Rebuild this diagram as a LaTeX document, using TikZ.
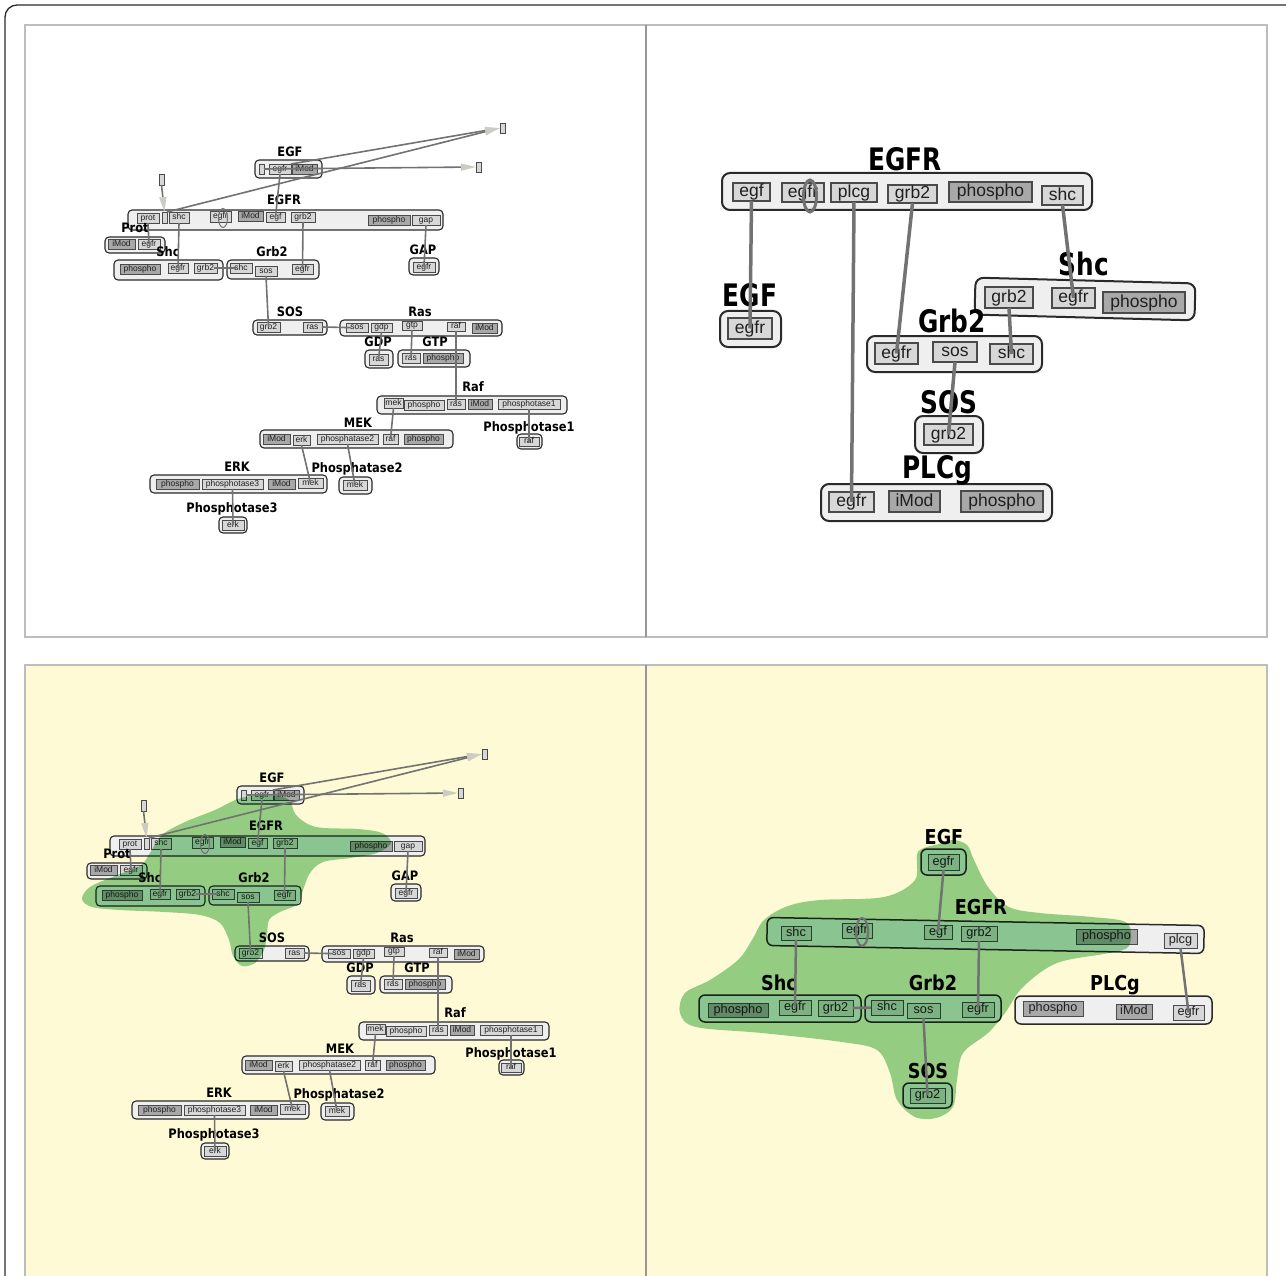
\documentclass[tikz,border=0pt]{standalone}
\usepackage{fontspec}
\setmainfont{Liberation Sans}
\newfontfamily\ttlA{DejaVu Sans}[FakeStretch=0.88]
\newfontfamily\ttlB{DejaVu Sans}[FakeStretch=0.8]
\newfontfamily\ttlC{DejaVu Sans}[FakeStretch=0.86]
\usetikzlibrary{arrows.meta}
\definecolor{boxfill}{HTML}{EFEFEF}
\definecolor{sitefill}{HTML}{D7D7D7}
\definecolor{sitedark}{HTML}{A8A8A8}
\definecolor{sitedraw}{HTML}{4A4A4A}
\definecolor{connc}{HTML}{727272}
\definecolor{tipc}{HTML}{CCCCC4}
\definecolor{cream}{HTML}{FFFAD6}
\definecolor{blobc}{HTML}{94D29B}
\definecolor{panelc}{HTML}{BDBDBD}
\definecolor{framec}{HTML}{2A2A2A}

\newcommand\st[7]{\node[#7, minimum width={(#4-#2)*1pt}, minimum height={(#5-#3)*1pt}] (#1) at ({(#2+#4)/2},{(#3+#5)/2}) {#6};}

\tikzset{
 sitebase/.style={draw=sitedraw, fill=sitefill, inner sep=0pt, outer sep=0pt, text=black!88},
 tls/.style={sitebase, line width=.6pt, font=\fontsize{8.5}{9}\selectfont, text height=4.7pt, text depth=.25pt},
 tld/.style={tls, fill=sitedark},
 tlbox/.style={draw=framec, fill=boxfill, line width=1.1pt, rounded corners=4pt, inner sep=0pt},
 tlt/.style={font=\ttlA\bfseries\fontsize{13}{13}\selectfont, inner sep=0pt, text height=9.5pt, text depth=0pt},
 tlc/.style={draw=connc, line width=1.6pt},
 tlarr/.style={tlc, -{Triangle[length=15pt,width=7pt,color=tipc]}},
 trs/.style={sitebase, line width=1.1pt, font=\fontsize{17.5}{18}\selectfont, text height=9.6pt, text depth=.5pt},
 trd/.style={trs, fill=sitedark},
 trbox/.style={draw=framec, fill=boxfill, line width=2pt, rounded corners=8pt, inner sep=0pt},
 trt/.style={font=\ttlB\bfseries\fontsize{31}{31}\selectfont, inner sep=0pt, text height=22.6pt, text depth=0pt},
 trc/.style={draw=connc, line width=3.5pt},
 brs/.style={sitebase, line width=.9pt, font=\fontsize{12.7}{13}\selectfont, text height=7pt, text depth=.4pt},
 brd/.style={brs, fill=sitedark},
 brbox/.style={draw=framec, fill=boxfill, line width=1.5pt, rounded corners=6pt, inner sep=0pt},
 brt/.style={font=\ttlC\bfseries\fontsize{20.5}{20.5}\selectfont, inner sep=0pt, text height=15pt, text depth=0pt},
 brc/.style={draw=connc, line width=2.5pt},
 blob/.style={fill=blobc, blend mode=multiply},
}

\newcommand\TLboxes[1]{%
 \st{#1EGF}{255}{160}{322}{178}{}{tlbox}
 \st{#1EGFs}{259}{164}{264}{174}{}{tls}
 \st{#1EGFegfr}{269}{164}{291}{174}{egfr}{tls}
 \st{#1EGFimod}{292}{164}{317}{174}{iMod}{tld}
 \st{#1sqA}{500}{123}{505}{133}{}{tls}
 \st{#1sqB}{476}{162}{481}{172}{}{tls}
 \st{#1sqC}{159}{174}{164}{185}{}{tls}
 \st{#1EGFR}{128}{210}{443}{230}{}{tlbox}
 \st{#1EGFRprot}{137}{213}{159}{223}{prot}{tls}
 \st{#1EGFRs}{162}{212}{167}{223}{}{tls}
 \st{#1EGFRshc}{169}{212}{189}{223}{shc}{tls}
 \st{#1EGFRegfr}{210}{211}{231}{222}{egfr}{tls}
 \st{#1EGFRimod}{238}{211}{263}{221}{iMod}{tld}
 \st{#1EGFRegf}{266}{212}{285}{222}{egf}{tls}
 \st{#1EGFRgrb}{291}{212}{315}{222}{grb2}{tls}
 \st{#1EGFRpho}{368}{215}{410}{225}{phospho}{tld}
 \st{#1EGFRgap}{412}{215}{440}{225}{gap}{tls}
 \st{#1Prot}{105}{237}{165}{253}{}{tlbox}
 \st{#1Protimod}{108}{239}{135}{249}{iMod}{tld}
 \st{#1Protegfr}{138}{239}{160}{249}{egfr}{tls}
 \st{#1Shc}{114}{260}{223}{280}{}{tlbox}
 \st{#1Shcpho}{120}{264}{160}{274}{phospho}{tld}
 \st{#1Shcegfr}{168}{263}{188}{273}{egfr}{tls}
 \st{#1Shcgrb}{194}{263}{217}{273}{grb2}{tls}
 \st{#1Grb}{227}{260}{319}{279}{}{tlbox}
 \st{#1Grbshc}{230}{263}{252}{273}{shc}{tls}
 \st{#1Grbsos}{255}{266}{277}{276}{sos}{tls}
 \st{#1Grbegfr}{292}{264}{313}{274}{egfr}{tls}
 \st{#1GAP}{409}{258}{439}{275}{}{tlbox}
 \st{#1GAPegfr}{413}{262}{435}{272}{egfr}{tls}
 \st{#1SOS}{253}{320}{327}{335}{}{tlbox}
 \st{#1SOSgrb}{257}{322}{280}{332}{grb2}{tls}
 \st{#1SOSras}{303}{322}{322}{332}{ras}{tls}
 \st{#1Ras}{340}{320}{502}{336}{}{tlbox}
 \st{#1Rassos}{346}{323}{368}{332}{sos}{tls}
 \st{#1Rasgdp}{371}{323}{392}{332}{gdp}{tls}
 \st{#1Rasgtp}{402}{321}{422}{330}{gtp}{tls}
 \st{#1Rasraf}{447}{322}{465}{331}{raf}{tls}
 \st{#1Rasimod}{472}{323}{497}{333}{iMod}{tld}
 \st{#1GDP}{365}{350}{393}{368}{}{tlbox}
 \st{#1GDPras}{369}{354}{388}{365}{ras}{tls}
 \st{#1GTP}{398}{350}{470}{367}{}{tlbox}
 \st{#1GTPras}{402}{353}{420}{363}{ras}{tls}
 \st{#1GTPpho}{423}{353}{463}{363}{phospho}{tld}
 \st{#1Raf}{377}{396}{567}{414}{}{tlbox}
 \st{#1Rafmek}{384}{398}{403}{408}{mek}{tls}
 \st{#1Rafpho}{404}{400}{444}{410}{phospho}{tls}
 \st{#1Rafras}{447}{399}{465}{409}{ras}{tls}
 \st{#1Rafimod}{468}{399}{492}{409}{iMod}{tld}
 \st{#1Rafpt}{498}{399}{560}{409}{phosphotase1}{tls}
 \st{#1MEK}{260}{430}{453}{448}{}{tlbox}
 \st{#1MEKimod}{263}{434}{290}{444}{iMod}{tld}
 \st{#1MEKerk}{293}{435}{310}{445}{erk}{tls}
 \st{#1MEKpt}{317}{434}{378}{444}{phosphatase2}{tls}
 \st{#1MEKraf}{383}{434}{398}{444}{raf}{tls}
 \st{#1MEKpho}{404}{434}{443}{444}{phospho}{tld}
 \st{#1PTa}{517}{434}{542}{449}{}{tlbox}
 \st{#1PTaraf}{519}{437}{539}{446}{raf}{tls}
 \st{#1ERK}{150}{475}{327}{493}{}{tlbox}
 \st{#1ERKpho}{156}{479}{199}{489}{phospho}{tld}
 \st{#1ERKpt}{202}{479}{263}{489}{phosphotase3}{tls}
 \st{#1ERKimod}{268}{479}{295}{489}{iMod}{tld}
 \st{#1ERKmek}{298}{478}{323}{488}{mek}{tls}
 \st{#1PTb}{339}{477}{372}{494}{}{tlbox}
 \st{#1PTbmek}{343}{480}{367}{490}{mek}{tls}
 \st{#1PTc}{219}{517}{247}{533}{}{tlbox}
 \st{#1PTcerk}{222}{520}{244}{530}{erk}{tls}
}

\newcommand\TLtop[1]{%
 \node[tlt] (#1tEGF) at (290,152) {EGF};
 \node[tlt] (#1tEGFR) at (284,200) {EGFR};
 \node[tlt] (#1tProt) at (135,228) {Prot};
 \node[tlt] (#1tShc) at (168,252) {Shc};
 \node[tlt] (#1tGrb) at (272,252) {Grb2};
 \node[tlt] (#1tGAP) at (423,250) {GAP};
 \node[tlt] (#1tSOS) at (290,312) {SOS};
 \node[tlt] (#1tRas) at (420,312) {Ras};
 \node[tlt] (#1tGDP) at (378,342) {GDP};
 \node[tlt] (#1tGTP) at (435,342) {GTP};
 \node[tlt] (#1tRaf) at (473,387) {Raf};
 \node[tlt] (#1tMEK) at (358,423) {MEK};
 \node[tlt] (#1tPTa) at (529,427) {Phosphotase1};
 \node[tlt] (#1tERK) at (237,467) {ERK};
 \node[tlt] (#1tPTb) at (357,468) {Phosphatase2};
 \node[tlt] (#1tPTc) at (232,508) {Phosphotase3};
 \draw[tlc] (#1EGFegfr.south) -- (#1EGFRegf.center);
 \draw[tlc] (#1EGFRprot.south) -- (#1Protegfr.center);
 \draw[tlc] (#1EGFRshc.south) -- (#1Shcegfr.center);
 \draw[tlc, shorten <=-3pt, shorten >=-6pt] (#1Shcgrb.east) -- (#1Grbshc.west);
 \draw[tlc] (#1EGFRgrb.south) -- (#1Grbegfr.center);
 \draw[tlc] (#1Grbsos.south) -- (#1SOSgrb.center);
 \draw[tlc] (#1EGFRgap.south) -- (#1GAPegfr.center);
 \draw[tlc, shorten >=-5pt] (#1SOSras.east) -- (#1Rassos.west);
 \draw[tlc] (#1Rasgdp.south) -- (#1GDPras.center);
 \draw[tlc] (#1Rasgtp.south) -- (#1GTPras.center);
 \draw[tlc] (#1Rasraf.south) -- (#1Rafras.center);
 \draw[tlc] (#1Rafmek.south) -- (#1MEKraf.center);
 \draw[tlc] (#1Rafpt.south) -- (#1PTaraf.center);
 \draw[tlc] (#1MEKerk.south) -- (#1ERKmek.center);
 \draw[tlc] (#1MEKpt.south) -- (#1PTbmek.center);
 \draw[tlc] (#1ERKpt.south) -- (#1PTcerk.center);
 \draw[connc, line width=1pt] ([xshift=2.5pt,yshift=-1.5pt]#1EGFRegfr.center) ellipse [x radius=4.5pt, y radius=9.5pt];
 \draw[tlarr] (#1sqC.south) -- (#1EGFRs.north);
 \draw[tlarr] (#1EGFRs.north east) -- (#1sqA.west);
 \draw[tlarr] (#1EGFegfr.north east) -- (#1sqA.west);
 \draw[tlarr] (#1EGFs.east) -- (#1sqB.west);
}

\begin{document}
\begin{tikzpicture}[x=1pt, y=-1pt]
\useasboundingbox (0,0) rectangle (1286,1276);
\clip (0,0) rectangle (1286,1276);
\fill[white] (0,0) rectangle (1286,1276);
\draw[framec, line width=1.3pt, rounded corners=12pt] (5,1300) -- (5,5) -- (1300,5);
\draw[panelc, line width=1.5pt] (25,25) rectangle (1267,637);
\draw[panelc!80!black, line width=1.3pt] (646,25) -- (646,637);
\fill[cream] (25,665) rectangle (1267,1300);
\draw[panelc, line width=1.5pt] (25,665) rectangle (1267,1300);
\draw[panelc!80!black, line width=1.3pt] (646,665) -- (646,1300);

% ---------- top left ----------
\TLboxes{a}

% ---------- bottom left boxes ----------
\begin{scope}[shift={(-18,626)}]
\TLboxes{d}
\end{scope}

% ---------- top right ----------
\st{bEGFR}{722}{173}{1092}{210}{}{trbox}
\st{bEGFRegf}{733}{183}{770}{201}{egf}{trs}
\st{bEGFRegfr}{782}{183}{824}{202}{egfr}{trs}
\st{bEGFRplcg}{831}{183}{877}{202}{plcg}{trs}
\st{bEGFRgrb}{888}{185}{937}{203}{grb2}{trs}
\st{bEGFRpho}{949}{182}{1032}{202}{phospho}{trd}
\st{bEGFRshc}{1042}{186}{1083}{205}{shc}{trs}
\st{bEGF}{720}{311}{781}{347}{}{trbox}
\st{bEGFegfr}{728}{318}{772}{339}{egfr}{trs}
\node[trbox, minimum width=220pt, minimum height=37pt, rotate=-1.5] (bShc) at (1085,299) {};
\st{bShcgrb}{985}{287}{1033}{308}{grb2}{trs}
\st{bShcegfr}{1052}{288}{1095}{308}{egfr}{trs}
\st{bShcpho}{1103}{292}{1185}{313}{phospho}{trd}
\st{bGrb}{867}{336}{1042}{372}{}{trbox}
\st{bGrbegfr}{875}{343}{918}{364}{egfr}{trs}
\st{bGrbsos}{933}{342}{977}{362}{sos}{trs}
\st{bGrbshc}{990}{344}{1033}{364}{shc}{trs}
\st{bSOS}{915}{416}{983}{453}{}{trbox}
\st{bSOSgrb}{924}{424}{973}{445}{grb2}{trs}
\st{bPLC}{821}{484}{1052}{521}{}{trbox}
\st{bPLCegfr}{829}{492}{874}{512}{egfr}{trs}
\st{bPLCimod}{889}{491}{940}{512}{iMod}{trd}
\st{bPLCpho}{961}{491}{1043}{512}{phospho}{trd}

% ---------- bottom right ----------
\st{cEGF}{921}{849}{966}{875}{}{brbox}
\st{cEGFegfr}{928}{854}{959}{870}{egfr}{brs}
\node[brbox, minimum width=437pt, minimum height=28pt, rotate=-1.05] (cEGFR) at (985.5,935.5) {};
\st{cEGFRshc}{781}{926}{811}{940}{shc}{brs}
\st{cEGFRegfr}{842}{923}{872}{938}{egfr}{brs}
\st{cEGFRegf}{924}{925}{952}{939}{egf}{brs}
\st{cEGFRgrb}{961}{926}{997}{941}{grb2}{brs}
\st{cEGFRpho}{1076}{929}{1137}{944}{phospho}{brd}
\st{cEGFRplcg}{1164}{933}{1197}{948}{plcg}{brs}
\st{cShc}{699}{995}{861}{1022}{}{brbox}
\st{cShcpho}{708}{1003}{768}{1017}{phospho}{brd}
\st{cShcegfr}{779}{1000}{811}{1015}{egfr}{brs}
\st{cShcgrb}{818}{1000}{853}{1016}{grb2}{brs}
\st{cGrb}{865}{995}{1001}{1022}{}{brbox}
\st{cGrbshc}{871}{1000}{903}{1015}{shc}{brs}
\st{cGrbsos}{907}{1003}{940}{1018}{sos}{brs}
\st{cGrbegfr}{962}{1002}{994}{1017}{egfr}{brs}
\st{cPLC}{1015}{996}{1212}{1024}{}{brbox}
\st{cPLCpho}{1023}{1001}{1083}{1016}{phospho}{brd}
\st{cPLCimod}{1116}{1004}{1152}{1019}{iMod}{brd}
\st{cPLCegfr}{1173}{1005}{1204}{1020}{egfr}{brs}
\st{cSOS}{903}{1083}{952}{1108}{}{brbox}
\st{cSOSgrb}{910}{1088}{945}{1103}{grb2}{brs}

% ---------- green blobs ----------
\fill[blob] plot[smooth cycle, tension=.55] coordinates {
 (238,799) (262,795) (288,799) (296,815) (316,827) (358,829) (382,833) (391,843)
 (377,853) (350,858) (323,862) (310,873) (303,890) (298,904) (280,912) (269,920)
 (267,935) (264,950) (255,963) (242,966) (233,956) (229,940) (220,923) (200,915)
 (165,912) (120,910) (92,907) (82,899) (90,887) (115,876) (140,866) (150,853)
 (162,835) (185,822) (215,810)};
\fill[blob] plot[smooth cycle, tension=.55] coordinates {
 (939,844) (918,852) (915,880) (884,897) (820,900) (788,906) (764,920) (752,940)
 (738,960) (710,980) (685,993) (680,1013) (696,1027) (762,1033) (842,1042)
 (877,1050) (890,1073) (897,1100) (915,1117) (936,1118) (953,1107) (957,1080)
 (963,1053) (988,1033) (1005,1013) (1023,987) (1057,963) (1109,953) (1129,946)
 (1127,923) (1092,917) (1040,913) (1009,907) (988,887) (974,860) (967,845) (953,840)};

% ---------- titles and connectors ----------
\TLtop{a}
\begin{scope}[shift={(-18,626)}]
\TLtop{d}
\end{scope}

\node[trt] (btEGFR) at (905,159) {EGFR};
\node[trt] (btEGF) at (750,295) {EGF};
\node[trt] (btShc) at (1084,264) {Shc};
\node[trt] (btGrb) at (952,321) {Grb2};
\node[trt] (btSOS) at (949,402) {SOS};
\node[trt] (btPLC) at (937,467) {PLCg};
\draw[trc] (bEGFRegf.south) -- (bEGFegfr.center);
\draw[trc] (bEGFRplcg.south) -- (bPLCegfr.center);
\draw[trc] (bEGFRgrb.south) -- (bGrbegfr.center);
\draw[trc] (bEGFRshc.south) -- (bShcegfr.center);
\draw[trc] (bShcgrb.south) -- (bGrbshc.center);
\draw[trc] (bGrbsos.south) -- (bSOSgrb.center);
\draw[connc, line width=3pt] (810,196) ellipse [x radius=6.5pt, y radius=16pt];

\node[brt] (ctEGF) at (944,837) {EGF};
\node[brt] (ctEGFR) at (981,907) {EGFR};
\node[brt] (ctShc) at (779,983) {Shc};
\node[brt] (ctGrb) at (933,983) {Grb2};
\node[brt] (ctPLC) at (1115,983) {PLCg};
\node[brt] (ctSOS) at (928,1071) {SOS};
\draw[brc] (cEGFegfr.south) -- (cEGFRegf.center);
\draw[brc] (cEGFRshc.south) -- (cShcegfr.center);
\draw[brc] (cEGFRgrb.south) -- (cGrbegfr.center);
\draw[brc] (cEGFRplcg.south) -- (cPLCegfr.center);
\draw[brc] (cShcgrb.east) -- (cGrbshc.west);
\draw[brc] (cGrbsos.south) -- (cSOSgrb.center);
\draw[connc, line width=2.2pt] (862,932) ellipse [x radius=6pt, y radius=14pt];
\end{tikzpicture}
\end{document}
